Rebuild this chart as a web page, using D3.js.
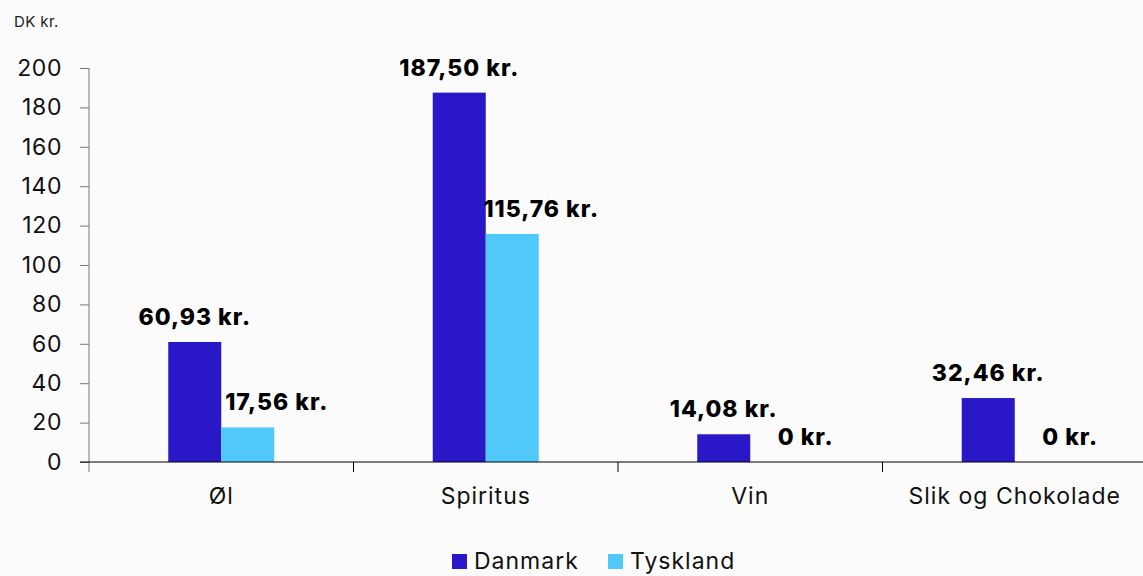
<!DOCTYPE html>
<html>
<head>
<meta charset="utf-8">
<script src="https://cdn.jsdelivr.net/npm/d3@7"></script>
<style>
  html, body { margin: 0; padding: 0; background: #fbfbfb; }
  svg { display: block; font-family: Inter, "Liberation Sans", sans-serif; }
</style>
</head>
<body>
<svg id="chart" width="1143" height="576"></svg>
<script>
var categories = ['Øl', 'Spiritus', 'Vin', 'Slik og Chokolade'];
var seriesNames = ['Danmark', 'Tyskland'];
var danmark = [60.93, 187.50, 14.08, 32.46];
var tyskland = [17.56, 115.76, 0, 0];
var yTicks = [0, 20, 40, 60, 80, 100, 120, 140, 160, 180, 200];
var colors = ['#2a18c8', '#50c9fa'];

var svg = d3.select('#chart');
var plot = { left: 89, right: 1147, top: 68, bottom: 462 };

var x = d3.scaleBand().domain(categories).range([plot.left, plot.right]);
var inner = d3.scaleBand().domain(seriesNames).range([x.bandwidth() / 2 - 53, x.bandwidth() / 2 + 53]);
var y = d3.scaleLinear().domain([0, 200]).range([plot.bottom, plot.top]);

var fmt = function (v) {
  return v === 0 ? '0 kr.' : d3.format('.2f')(v).replace('.', ',') + ' kr.';
};

// unit label
svg.append('text').attr('x', 14).attr('y', 27).attr('font-size', 15).attr('letter-spacing', 0.4).attr('fill', '#222').text('DK kr.');

// y axis
var yAxis = d3.axisLeft(y).tickValues(yTicks).tickSize(9).tickPadding(18).tickFormat(d3.format('d'));
var gy = svg.append('g').attr('transform', 'translate(' + plot.left + ',0)').call(yAxis);
gy.select('.domain').remove();
gy.selectAll('.tick line').attr('stroke', '#777');
gy.selectAll('.tick text').attr('font-size', 23).attr('fill', '#111').attr('font-family', 'Inter, sans-serif').attr('letter-spacing', 0.6);
svg.append('line').attr('x1', plot.left).attr('x2', plot.left).attr('y1', plot.top).attr('y2', plot.bottom + 10).attr('stroke', '#777');

// bars
var rows = categories.map(function (c, i) {
  return { cat: c, values: [danmark[i], tyskland[i]] };
});
var groups = svg.append('g').selectAll('g').data(rows).enter().append('g')
  .attr('transform', function (d) { return 'translate(' + x(d.cat) + ',0)'; });

groups.selectAll('rect').data(function (d) {
  return d.values.map(function (v, j) { return { name: seriesNames[j], value: v, j: j }; });
}).enter().append('rect')
  .attr('x', function (d) { return inner(d.name); })
  .attr('width', inner.bandwidth())
  .attr('y', function (d) { return y(d.value); })
  .attr('height', function (d) { return y(0) - y(d.value); })
  .attr('fill', function (d) { return colors[d.j]; });

groups.selectAll('text.lbl').data(function (d) {
  return d.values.map(function (v, j) { return { name: seriesNames[j], value: v, j: j }; });
}).enter().append('text')
  .attr('class', 'lbl')
  .attr('x', function (d) { return inner(d.name) + inner.bandwidth() / 2 + (d.j === 1 ? 29 : 0); })
  .attr('y', function (d) { return y(d.value) - 17; })
  .attr('text-anchor', 'middle')
  .attr('font-size', 23)
  .attr('font-weight', 800)
  .attr('letter-spacing', 1)
  .attr('fill', '#000')
  .text(function (d) { return fmt(d.value); });

// x axis
var xAxis = d3.axisBottom(x).tickSize(0).tickPadding(26);
var gx = svg.append('g').attr('transform', 'translate(0,' + plot.bottom + ')').call(xAxis);
gx.select('.domain').remove();
gx.selectAll('.tick text').attr('font-size', 23).attr('fill', '#111').attr('font-family', 'Inter, sans-serif').attr('letter-spacing', 1);
svg.append('line').attr('x1', plot.left - 9).attr('x2', 1143).attr('y1', plot.bottom).attr('y2', plot.bottom).attr('stroke', '#000');
svg.append('g').selectAll('line').data(categories.slice(1)).enter().append('line')
  .attr('x1', function (d) { return x(d); }).attr('x2', function (d) { return x(d); })
  .attr('y1', plot.bottom).attr('y2', plot.bottom + 10).attr('stroke', '#000');

// legend
var legendX = [452, 608];
var lg = svg.append('g').selectAll('g').data(seriesNames).enter().append('g')
  .attr('transform', function (d, i) { return 'translate(' + legendX[i] + ',554)'; });
lg.append('rect').attr('width', 15).attr('height', 15).attr('fill', function (d, i) { return colors[i]; });
lg.append('text').attr('x', 22).attr('y', 15).attr('font-size', 23).attr('letter-spacing', 1).attr('fill', '#111').text(function (d) { return d; });
</script>
</body>
</html>
